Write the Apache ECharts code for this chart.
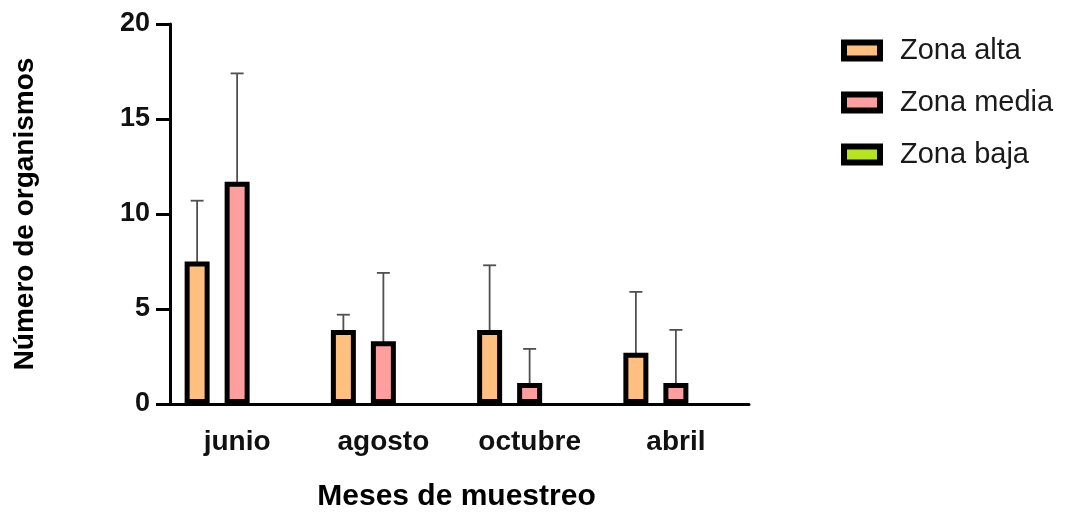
<!DOCTYPE html>
<html>
<head>
<meta charset="utf-8">
<script src="https://cdn.jsdelivr.net/npm/echarts@6/dist/echarts.min.js"></script>
<style>html,body{margin:0;padding:0;background:#fff;}#c{width:1068px;height:515px;}</style>
</head>
<body>
<div id="c"></div>
<script>
const categories = ['junio', 'agosto', 'octubre', 'abril'];
const seriesNames = ['Zona alta', 'Zona media', 'Zona baja'];
const altaMean = [7.5, 3.9, 3.9, 2.7];
const altaSD = [3.2, 0.8, 3.4, 3.2];
const mediaMean = [11.7, 3.3, 1.1, 1.1];
const mediaSD = [5.7, 3.6, 1.8, 2.8];
const bajaMean = [0, 0, 0, 0];
const yTicks = [0, 5, 10, 15, 20];

const FONT = "'Liberation Sans', Arial, sans-serif";
const BAR_W = 25, BAR_GAP = 0.6;
const colors = ['#FFBF7F', '#FF9E9E', '#B5E51E'];

function barOffset(i, n) {
  const total = n * BAR_W + (n - 1) * BAR_W * BAR_GAP;
  return -total / 2 + BAR_W / 2 + i * BAR_W * (1 + BAR_GAP);
}

function errSeries(mean, sd, i) {
  const off = barOffset(i, 3);
  return {
    type: 'custom',
    name: 'err' + i,
    z: 1,
    silent: true,
    data: mean.map((m, k) => [k, m, sd[k]]),
    encode: { x: 0, y: 1 },
    renderItem: function (params, api) {
      const idx = api.value(0), m = api.value(1), s = api.value(2);
      const b = api.coord([idx, m]);
      const t = api.coord([idx, m + s]);
      const x = b[0] + off;
      const st = { stroke: '#505050', lineWidth: 1.8 };
      return {
        type: 'group',
        children: [
          { type: 'line', shape: { x1: x, y1: b[1] + 2, x2: x, y2: t[1] }, style: st },
          { type: 'line', shape: { x1: x - 6.5, y1: t[1], x2: x + 6.5, y2: t[1] }, style: st }
        ]
      };
    }
  };
}

const chart = echarts.init(document.getElementById('c'));
chart.setOption({
  animation: false,
  backgroundColor: '#fff',
  grid: { left: 164, right: 319, top: 24, bottom: 111, containLabel: false, outerBoundsMode: 'none' },
  legend: {
    orient: 'vertical',
    left: 836, top: 31,
    itemWidth: 36, itemHeight: 16, itemGap: 23,
    icon: 'rect',
    data: seriesNames,
    itemStyle: { borderWidth: 6, borderColor: '#000' },
    textStyle: { fontFamily: FONT, fontSize: 29, color: '#1a1a1a', padding: [0, 0, 0, 15] }
  },
  xAxis: {
    type: 'category',
    data: categories,
    name: 'Meses de muestreo',
    nameLocation: 'middle',
    nameGap: 78,
    nameTextStyle: { fontFamily: FONT, fontSize: 30, fontWeight: 'bold', color: '#000' },
    axisLine: { lineStyle: { color: '#000', width: 3 } },
    axisTick: { alignWithLabel: true, length: 14, lineStyle: { color: '#000', width: 3 } },
    axisLabel: { margin: 24, fontFamily: FONT, fontSize: 28, fontWeight: 'bold', color: '#111' }
  },
  yAxis: {
    type: 'value',
    min: 0, max: 20, interval: 5,
    offset: -6,
    name: 'Número de organismos',
    nameLocation: 'middle',
    nameGap: 131,
    nameTextStyle: { fontFamily: FONT, fontSize: 28, fontWeight: 'bold', color: '#000' },
    axisLine: { show: true, lineStyle: { color: '#000', width: 3 } },
    axisTick: { show: true, length: 14, lineStyle: { color: '#000', width: 3 } },
    splitLine: { show: false },
    axisLabel: {
      margin: 20, fontFamily: FONT, fontSize: 27, fontWeight: 'bold', color: '#111',
      formatter: v => (yTicks.indexOf(v) >= 0 ? String(v) : '')
    }
  },
  series: [
    { type: 'bar', name: seriesNames[0], data: altaMean, barWidth: BAR_W, barGap: '60%', z: 2,
      itemStyle: { color: colors[0], borderColor: '#000', borderWidth: 5 } },
    { type: 'bar', name: seriesNames[1], data: mediaMean, barWidth: BAR_W, barGap: '60%', z: 2,
      itemStyle: { color: colors[1], borderColor: '#000', borderWidth: 5 } },
    { type: 'bar', name: seriesNames[2], data: bajaMean, barWidth: BAR_W, barGap: '60%', z: 2,
      itemStyle: { color: colors[2], borderColor: '#000', borderWidth: 0 } },
    errSeries(altaMean, altaSD, 0),
    errSeries(mediaMean, mediaSD, 1)
  ]
});
</script>
</body>
</html>
